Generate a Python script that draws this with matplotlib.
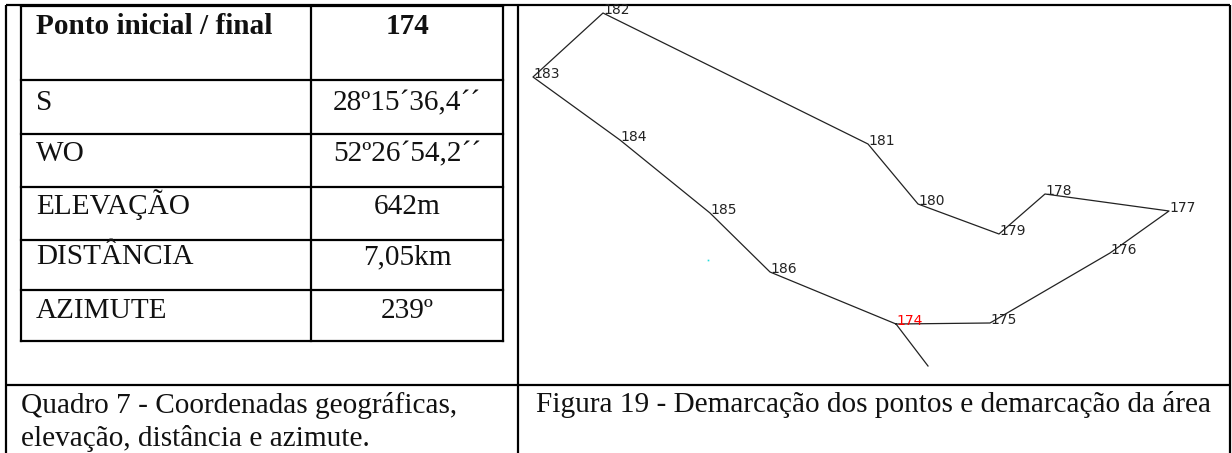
import matplotlib
matplotlib.use('Agg')
import matplotlib.pyplot as plt

# Table contents
row_labels = ['Ponto inicial / final', 'S', 'WO', 'ELEVAÇÃO', 'DISTÂNCIA', 'AZIMUTE']
row_values = ['174', '28º15´36,4´´', '52º26´54,2´´', '642m', '7,05km', '239º']
caption_left = ['Quadro 7 - Coordenadas geográficas,', 'elevação, distância e azimute.']
caption_right = 'Figura 19 - Demarcação dos pontos e demarcação da área'

# Demarcated points, in image coordinates
point_names = ['174', '175', '176', '177', '178', '179', '180', '181', '182', '183', '184', '185', '186']
point_x = [896, 990, 1110, 1169, 1045, 999, 918, 868, 603, 533, 620, 710, 770]
point_y = [324, 323, 253, 211, 194, 234, 204, 144, 13, 77, 140, 213, 272]
tail_x = [896, 928]
tail_y = [324, 366]
speck_x = [708]
speck_y = [260]

# Grid lines of both tables
outer_x = [6, 518, 1230]
outer_y = [5, 385]
inner_x = [21, 311, 503]
inner_y = [6, 80, 134, 187, 240, 290, 341]
row_baseline = [34, 110, 161, 214, 264, 318]

fig = plt.figure(figsize=(12.32, 4.53), dpi=100)
ax = fig.add_axes([0, 0, 1, 1])
ax.set_xlim(0, 1232)
ax.set_ylim(453, 0)
ax.axis('off')

# Outer table
for x in outer_x:
    ax.plot([x, x], [5, 453], color='black', lw=1.6, solid_capstyle='butt')
for y in outer_y:
    ax.plot([outer_x[0], outer_x[-1]], [y, y], color='black', lw=1.6, solid_capstyle='butt')

# Inner table
for x in inner_x:
    ax.plot([x, x], [inner_y[0], inner_y[-1]], color='black', lw=1.6, solid_capstyle='projecting')
for y in inner_y:
    ax.plot([inner_x[0], inner_x[-1]], [y, y], color='black', lw=1.6, solid_capstyle='projecting')

font = 'Liberation Serif'
for i in range(len(row_labels)):
    weight = 'bold' if i == 0 else 'normal'
    ax.text(36, row_baseline[i], row_labels[i], family=font, fontsize=21.1, weight=weight, va='baseline', ha='left', color='#111111')
    ax.text(407, row_baseline[i], row_values[i], family=font, fontsize=21.1, weight=weight, va='baseline', ha='center', color='#111111')

ax.text(21, 413, caption_left[0], family=font, fontsize=21.1, va='baseline', color='#111111')
ax.text(21, 446, caption_left[1], family=font, fontsize=21.1, va='baseline', color='#111111')
ax.text(536, 412, caption_right, family=font, fontsize=21.1, va='baseline', color='#111111')

# Polygon
ax.plot(point_x + point_x[:1], point_y + point_y[:1], color='#222222', lw=0.9)
ax.plot(tail_x, tail_y, color='#222222', lw=0.9)
ax.plot(speck_x, speck_y, 's', color='#22dddd', ms=1.2, mew=0)

for i in range(len(point_names)):
    c = 'red' if point_names[i] == '174' else '#222222'
    ax.text(point_x[i], point_y[i] + 1, point_names[i], fontsize=10, color=c, va='baseline', ha='left')

fig.savefig('out.png', dpi=100)
